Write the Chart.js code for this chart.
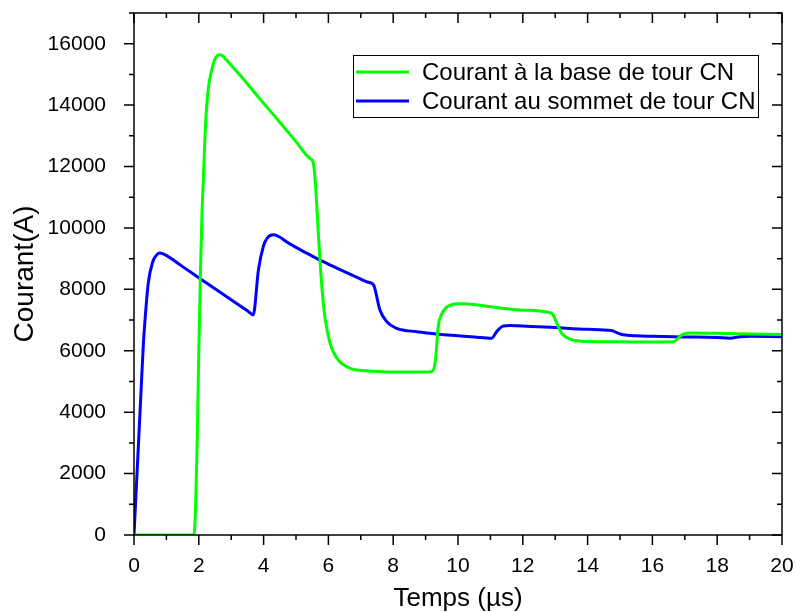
<!DOCTYPE html>
<html>
<head>
<meta charset="utf-8">
<script src="https://cdn.jsdelivr.net/npm/chart.js@4.4.1/dist/chart.umd.min.js"></script>
<style>
  html, body { margin: 0; padding: 0; background: #fff; }
  #wrap { width: 796px; height: 612px; position: relative; }
</style>
</head>
<body>
<div id="wrap"><canvas id="chart"></canvas></div>
<script>
// ── Données ──
const baseT = [0, 1.85, 1.9, 1.95, 2.0, 2.05, 2.1, 2.14, 2.21, 2.29, 2.4, 2.5, 2.65, 2.75, 2.86, 3.27, 3.5, 4.0, 4.3, 4.5, 5.0, 5.43, 5.53,
  5.59, 5.72, 5.79, 5.89, 6.05, 6.3, 6.67, 7.2, 7.69, 8.0, 9.0, 9.2, 9.3, 9.39, 9.5, 9.65, 9.8, 10.0, 10.2,
  11.0, 12.0, 12.89, 13.05, 13.2, 13.46, 13.97, 15.0, 16.0, 16.65, 16.8, 16.95, 17.2, 18.0, 19.0, 20];
const baseI = [0, 0, 900, 3000, 6000, 8500, 10500, 11570, 13400, 14500, 15150, 15500, 15640, 15590, 15460, 14980, 14690, 14060, 13690, 13440, 12810, 12260, 12140,
  11570, 9290, 8200, 7110, 6250, 5700, 5430, 5350, 5320, 5310, 5310, 5330, 5650, 6790, 7200, 7420, 7500, 7530, 7530,
  7430, 7320, 7220, 6900, 6570, 6380, 6300, 6290, 6285, 6290, 6420, 6540, 6580, 6570, 6550, 6530];

const sommetT = [0, 0.1, 0.2, 0.29, 0.34, 0.44, 0.58, 0.7, 0.8, 0.95, 1.5, 2.0, 2.5, 3.0, 3.5, 3.68, 3.84, 3.99, 4.1, 4.3,
  4.81, 5.33, 5.84, 6.36, 6.9, 7.2, 7.39, 7.59, 7.8, 8.11, 8.73, 9.39, 10.0, 10.5, 11.04, 11.19, 11.4, 11.6, 12.0,
  13.0, 14.0, 14.74, 14.9, 15.1, 15.5, 16.0, 17.0, 18.0, 18.4, 18.7, 19.0, 20];
const sommetI = [0, 2150, 4300, 6240, 7000, 8200, 8900, 9120, 9180, 9130, 8740, 8380, 8020, 7660, 7300, 7170, 8630, 9390, 9650, 9775,
  9480, 9180, 8900, 8640, 8380, 8240, 8150, 7330, 6950, 6730, 6620, 6540, 6490, 6450, 6410, 6620, 6810, 6820, 6810,
  6755, 6700, 6660, 6590, 6520, 6485, 6470, 6450, 6430, 6410, 6460, 6470, 6460];

const xTicks = [0, 2, 4, 6, 8, 10, 12, 14, 16, 18, 20];
const yTicks = [0, 2000, 4000, 6000, 8000, 10000, 12000, 14000, 16000];
const seriesNames = ['Courant à la base de tour CN', 'Courant au sommet de tour CN'];
const seriesColors = ['#00ff00', '#0000ff'];

const FONT = 'Liberation Sans, Arial, sans-serif';

function pts(xs, ys) { return xs.map((x, i) => ({ x: x, y: ys[i] })); }

// ── Cadre + graduations (ext. à gauche/bas, int. en haut/droite) ──
const framePlugin = {
  id: 'frame',
  afterDraw(chart) {
    const { ctx, chartArea: a, scales: { x, y } } = chart;
    ctx.save();
    ctx.strokeStyle = '#000';
    ctx.lineWidth = 1.5;
    ctx.strokeRect(a.left, a.top, a.right - a.left, a.bottom - a.top);
    ctx.beginPath();
    for (let v = 0; v <= 20; v += 1) {
      const px = x.getPixelForValue(v);
      const len = v % 2 === 0 ? 10 : 5;
      ctx.moveTo(px, a.bottom); ctx.lineTo(px, a.bottom + len);
      ctx.moveTo(px, a.top);    ctx.lineTo(px, a.top + len);
    }
    for (let v = 0; v <= 17000; v += 1000) {
      const py = y.getPixelForValue(v);
      const len = v % 2000 === 0 ? 10 : 5;
      ctx.moveTo(a.left, py);  ctx.lineTo(a.left - len, py);
      ctx.moveTo(a.right, py); ctx.lineTo(a.right - len, py);
    }
    ctx.stroke();
    ctx.restore();
  }
};

// ── Légende encadrée dans la zone du tracé ──
const legendPlugin = {
  id: 'boxLegend',
  afterDraw(chart) {
    const { ctx } = chart;
    const bx = 353, by = 55, bw = 405, bh = 62;
    ctx.save();
    ctx.fillStyle = '#fff';
    ctx.fillRect(bx, by, bw, bh);
    ctx.strokeStyle = '#000';
    ctx.lineWidth = 1;
    ctx.strokeRect(bx + 0.5, by + 0.5, bw, bh);
    ctx.font = '24px ' + FONT;
    ctx.textBaseline = 'middle';
    seriesNames.forEach((name, i) => {
      const ly = by + 17 + i * 29;
      ctx.strokeStyle = seriesColors[i];
      ctx.lineWidth = 3;
      ctx.beginPath();
      ctx.moveTo(bx + 3, ly); ctx.lineTo(bx + 56, ly);
      ctx.stroke();
      ctx.fillStyle = '#000';
      ctx.fillText(name, bx + 69, ly + 1);
    });
    ctx.restore();
  }
};

new Chart(document.getElementById('chart'), {
  type: 'line',
  data: {
    datasets: [
      { label: seriesNames[0], data: pts(baseT, baseI), borderColor: seriesColors[0], borderWidth: 3,
        pointRadius: 0, cubicInterpolationMode: 'monotone', fill: false },
      { label: seriesNames[1], data: pts(sommetT, sommetI), borderColor: seriesColors[1], borderWidth: 3,
        pointRadius: 0, cubicInterpolationMode: 'monotone', fill: false }
    ]
  },
  options: {
    responsive: true, maintainAspectRatio: false, animation: false,
    layout: { padding: { top: 13, right: 14, left: 0, bottom: 0 } },
    plugins: { legend: { display: false }, tooltip: { enabled: false } },
    scales: {
      x: {
        type: 'linear', min: 0, max: 20,
        grid: { display: false }, border: { display: false },
        afterBuildTicks: s => { s.ticks = xTicks.map(v => ({ value: v })); },
        afterFit: s => { s.height = 77; s.paddingLeft = 0; s.paddingRight = 0; },
        ticks: { color: '#000', font: { family: FONT, size: 21 }, padding: 11, maxRotation: 0,
                 callback: v => String(v) },
        title: { display: true, text: 'Temps (µs)', color: '#000',
                 font: { family: FONT, size: 26, lineHeight: 1 }, padding: { top: 0, bottom: 0 } }
      },
      y: {
        type: 'linear', min: 0, max: 17000,
        grid: { display: false }, border: { display: false },
        afterBuildTicks: s => { s.ticks = yTicks.map(v => ({ value: v })); },
        afterFit: s => { s.width = 134; s.paddingTop = 0; s.paddingBottom = 0; },
        ticks: { color: '#000', font: { family: FONT, size: 21 }, padding: 20,
                 callback: v => String(v) },
        title: { display: true, text: 'Courant(A)', color: '#000',
                 font: { family: FONT, size: 28, lineHeight: 1 }, padding: { top: 11, bottom: 0 } }
      }
    }
  },
  plugins: [framePlugin, legendPlugin]
});
</script>
</body>
</html>
